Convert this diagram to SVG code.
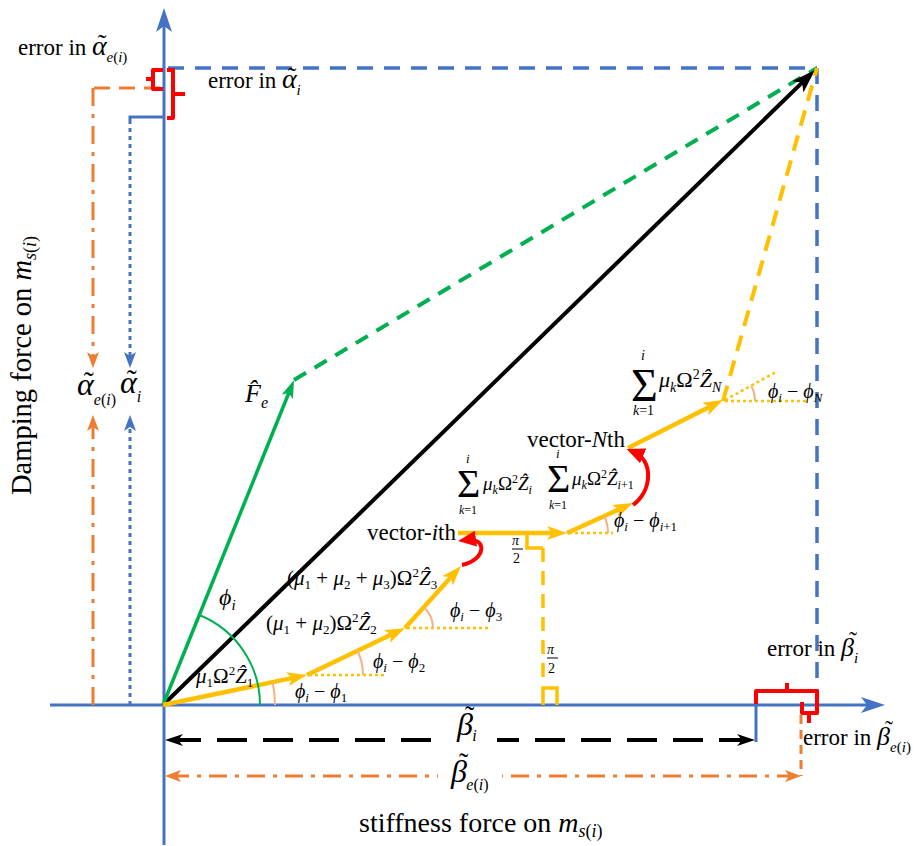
<svg xmlns="http://www.w3.org/2000/svg" width="921" height="846" viewBox="0 0 921 846">
<style>
.m{font-family:"Liberation Serif","DejaVu Serif","Times New Roman",serif;fill:#000}
.i{font-style:italic}
.ax{stroke:#4472C4;stroke-width:3;fill:none}
.bd{stroke:#4472C4;stroke-width:3.5;fill:none;stroke-dasharray:16 11}
.yv{stroke:#FFC000;stroke-width:4.5;fill:none}
.ydot{stroke:#FFC000;stroke-width:2.5;fill:none;stroke-dasharray:3 3}
.arc{stroke:#F4B183;stroke-width:2;fill:none}
.red{stroke:#FF0000;stroke-width:4;fill:none;stroke-linejoin:round}
.or{stroke:#ED7D31;stroke-width:3;fill:none}
</style>
<defs>
<marker id="ahB" markerUnits="userSpaceOnUse" markerWidth="24" markerHeight="16" viewBox="0 0 24 16" refX="16" refY="8" orient="auto"><path d="M0,0 L24,8 L0,16 L6,8 Z" fill="#4472C4"/></marker>
<marker id="ahY" markerUnits="userSpaceOnUse" markerWidth="20" markerHeight="14" viewBox="0 0 20 14" refX="13" refY="7" orient="auto"><path d="M0,0 L20,7 L0,14 L5,7 Z" fill="#FFC000"/></marker>
<marker id="ahG" markerUnits="userSpaceOnUse" markerWidth="18" markerHeight="12" viewBox="0 0 18 12" refX="11" refY="6" orient="auto"><path d="M0,0 L18,6 L0,12 L4,6 Z" fill="#00B050"/></marker>
<marker id="ahK" markerUnits="userSpaceOnUse" markerWidth="24" markerHeight="16" viewBox="0 0 24 16" refX="16" refY="8" orient="auto"><path d="M0,0 L24,8 L0,16 L6,8 Z" fill="#000"/></marker>
<marker id="ahK2" markerUnits="userSpaceOnUse" markerWidth="18" markerHeight="12" viewBox="0 0 18 12" refX="12" refY="6" orient="auto-start-reverse"><path d="M0,0 L18,6 L0,12 L5,6 Z" fill="#000"/></marker>
<marker id="ahO" markerUnits="userSpaceOnUse" markerWidth="16" markerHeight="12" viewBox="0 0 16 12" refX="10" refY="6" orient="auto-start-reverse"><path d="M0,0 L16,6 L0,12 L4,6 Z" fill="#ED7D31"/></marker>
<marker id="ahBs" markerUnits="userSpaceOnUse" markerWidth="16" markerHeight="12" viewBox="0 0 16 12" refX="10" refY="6" orient="auto-start-reverse"><path d="M0,0 L16,6 L0,12 L4,6 Z" fill="#4472C4"/></marker>
<marker id="ahR" markerUnits="userSpaceOnUse" markerWidth="18" markerHeight="16" viewBox="0 0 18 16" refX="10" refY="8" orient="auto"><path d="M0,0 L18,8 L0,16 Z" fill="#FF0000"/></marker>
</defs>

<g id="connectors">
  <line class="ax" x1="50" y1="705" x2="877" y2="705" marker-end="url(#ahB)"/>
  <line class="ax" x1="164" y1="845" x2="164" y2="16" marker-end="url(#ahB)"/>
  <line class="bd" x1="168" y1="68" x2="817" y2="68"/>
  <line class="bd" x1="817" y1="68" x2="817" y2="705"/>
  <line x1="294" y1="380" x2="817" y2="68" stroke="#00B050" stroke-width="4" stroke-dasharray="14 10"/>
  <line x1="163" y1="705" x2="809.3" y2="75.6" stroke="#000" stroke-width="4" marker-end="url(#ahK)"/>
  <line x1="163" y1="705" x2="291.4" y2="386.5" stroke="#00B050" stroke-width="3.5" marker-end="url(#ahG)"/>
  <line x1="723" y1="401" x2="817" y2="68" stroke="#FFC000" stroke-width="4" stroke-dasharray="16 10"/>
  <line class="yv" x1="163" y1="705" x2="300.1" y2="676.4" marker-end="url(#ahY)"/>
  <line class="yv" x1="307" y1="675" x2="398.7" y2="631" marker-end="url(#ahY)"/>
  <line class="yv" x1="405" y1="628" x2="456.3" y2="571.2" marker-end="url(#ahY)"/>
  <line class="yv" x1="458" y1="533" x2="560" y2="533" marker-end="url(#ahY)"/>
  <line class="yv" x1="567" y1="533" x2="626.6" y2="505.9" marker-end="url(#ahY)"/>
  <line class="yv" x1="628" y1="448" x2="716.7" y2="403.2" marker-end="url(#ahY)"/>
  <line class="ydot" x1="309" y1="675" x2="387" y2="675"/>
  <line class="ydot" x1="407" y1="628" x2="488" y2="628"/>
  <line class="ydot" x1="569" y1="533" x2="613" y2="533"/>
  <line class="ydot" x1="725" y1="401" x2="806" y2="401"/>
  <line class="ydot" x1="725" y1="400" x2="776" y2="372"/>
  <path d="M260,705 A97,97 0 0 0 199.3,615" stroke="#00B050" stroke-width="2" fill="none"/>
  <path class="arc" d="M275,705 A112,112 0 0 0 272.6,682.2"/>
  <path class="arc" d="M363,675 A56,56 0 0 0 357.5,650.8"/>
  <path class="arc" d="M433,628 A28,28 0 0 0 423.8,607.2"/>
  <path class="arc" d="M608,533 A41,41 0 0 0 604.3,516"/>
  <path class="arc" d="M755,401 A32,32 0 0 0 751.2,385.8"/>
  <polyline points="527,533 527,548 543,548" stroke="#FFC000" stroke-width="3.5" fill="none"/>
  <line x1="543" y1="548" x2="543" y2="686" stroke="#FFC000" stroke-width="3.5" stroke-dasharray="14 9"/>
  <polyline points="543,705 543,688 557,688 557,705" stroke="#FFC000" stroke-width="3.5" fill="none"/>
  <path class="red" d="M462,565 C486,560 488,537 466,540" stroke-width="5" marker-end="url(#ahR)"/>
  <path class="red" d="M633,505 C653,490 653,460 634,452" stroke-width="5" marker-end="url(#ahR)"/>
  <polyline points="160,88 93,88" class="or" stroke-dasharray="16 9"/>
  <line class="or" x1="93" y1="88" x2="93" y2="362" stroke-dasharray="18 8 4 8" marker-end="url(#ahO)"/>
  <line class="or" x1="93" y1="705" x2="93" y2="421" stroke-dasharray="18 8 4 8" marker-end="url(#ahO)"/>
  <polyline points="163,117 130,117 130,120" stroke="#4472C4" stroke-width="3" fill="none"/>
  <line x1="130" y1="120" x2="130" y2="362" stroke="#4472C4" stroke-width="3" stroke-dasharray="4 4" marker-end="url(#ahBs)"/>
  <line x1="130" y1="705" x2="130" y2="421" stroke="#4472C4" stroke-width="3" stroke-dasharray="4 4" marker-end="url(#ahBs)"/>
  <path class="red" d="M163,70 L153,70 L153,89 L163,89 M153,79 L146,79"/>
  <path class="red" d="M167,70 L173,70 L173,118 L167,118 M173,94 L185,94"/>
  <line class="ax" x1="756" y1="705" x2="756" y2="742"/>
  <path class="red" d="M756,704 L756,691 L817,691 L817,704 M787,691 L787,683"/>
  <path class="red" d="M802,702 L802,713 L817,713 L817,703 M809,713 L809,723"/>
  <line x1="801" y1="715" x2="801" y2="776" stroke="#ED7D31" stroke-width="3" stroke-dasharray="9 6"/>
  <line x1="171" y1="740" x2="440" y2="740" stroke="#000" stroke-width="4" stroke-dasharray="30 16" marker-start="url(#ahK2)"/>
  <line x1="749" y1="740" x2="497" y2="740" stroke="#000" stroke-width="4" stroke-dasharray="30 16" marker-start="url(#ahK2)"/>
  <line x1="171" y1="776" x2="438" y2="776" class="or" stroke-dasharray="18 8 4 8" marker-start="url(#ahO)"/>
  <line x1="795" y1="776" x2="502" y2="776" class="or" stroke-dasharray="18 8 4 8" marker-start="url(#ahO)"/>
</g>

<g id="labels-errors">
  <text class="m" x="18" y="55" font-size="23">error in <tspan class="i" font-size="28">α</tspan><tspan font-size="26" dx="-9" dy="-3">˜</tspan><tspan class="i" font-size="15" dy="10">e</tspan><tspan font-size="15">(</tspan><tspan class="i" font-size="15">i</tspan><tspan font-size="15">)</tspan></text>
  <text class="m" x="208" y="88" font-size="23">error in <tspan class="i" font-size="28">α</tspan><tspan font-size="26" dx="-9" dy="-3">˜</tspan><tspan class="i" font-size="15" dy="10">i</tspan></text>
  <text class="m" x="767" y="656" font-size="23">error in <tspan class="i" font-size="26">β</tspan><tspan font-size="24" dx="-5" dy="-8">˜</tspan><tspan class="i" font-size="15" dx="-3" dy="15">i</tspan></text>
  <text class="m" x="803" y="745" font-size="23">error in <tspan class="i" font-size="26">β</tspan><tspan font-size="24" dx="-5" dy="-8">˜</tspan><tspan class="i" font-size="15" dx="-3" dy="15">e</tspan><tspan font-size="15">(</tspan><tspan class="i" font-size="15">i</tspan><tspan font-size="15">)</tspan></text>
</g>

<g id="labels-projections">
  <text class="m" x="77" y="395" font-size="32"><tspan class="i">α</tspan><tspan font-size="30" dx="-10" dy="-3">˜</tspan><tspan class="i" font-size="16" dy="13">e</tspan><tspan font-size="16">(</tspan><tspan class="i" font-size="16">i</tspan><tspan font-size="16">)</tspan></text>
  <text class="m" x="120" y="393" font-size="32"><tspan class="i">α</tspan><tspan font-size="30" dx="-10" dy="-3">˜</tspan><tspan class="i" font-size="16" dy="12">i</tspan></text>
  <text class="m" x="457" y="735" font-size="32"><tspan class="i">β</tspan><tspan font-size="28" dx="-8" dy="-10">˜</tspan><tspan class="i" font-size="16" dx="-2" dy="16">i</tspan></text>
  <text class="m" x="451" y="782" font-size="32"><tspan class="i">β</tspan><tspan font-size="28" dx="-8" dy="-10">˜</tspan><tspan class="i" font-size="16" dx="-2" dy="18">e</tspan><tspan font-size="16">(</tspan><tspan class="i" font-size="16">i</tspan><tspan font-size="16">)</tspan></text>
</g>

<g id="labels-axes">
  <text class="m" x="359" y="832" font-size="28">stiffness force on <tspan class="i">m</tspan><tspan class="i" font-size="18" dy="5">s</tspan><tspan font-size="18">(</tspan><tspan class="i" font-size="18">i</tspan><tspan font-size="18">)</tspan></text>
  <text class="m" transform="translate(31,495) rotate(-90)" font-size="28.5">Damping force on <tspan class="i">m</tspan><tspan class="i" font-size="18" dy="5">s</tspan><tspan font-size="18">(</tspan><tspan class="i" font-size="18">i</tspan><tspan font-size="18">)</tspan></text>
</g>

<g id="labels-vectors">
  <text class="m i" x="245" y="402" font-size="26">F̂<tspan font-size="16" dy="6">e</tspan></text>
  <text class="m i" x="219" y="605" font-size="24">ϕ<tspan font-size="15" dy="5">i</tspan></text>
  <text class="m" x="196" y="683" font-size="21"><tspan class="i">μ</tspan><tspan font-size="13" dy="4">1</tspan><tspan dy="-4">Ω</tspan><tspan font-size="13" dy="-8">2</tspan><tspan class="i" dy="8">Ẑ</tspan><tspan font-size="13" dy="4">1</tspan></text>
  <text class="m" x="266" y="630" font-size="21">(<tspan class="i">μ</tspan><tspan font-size="13" dy="4">1</tspan><tspan dy="-4"> + </tspan><tspan class="i">μ</tspan><tspan font-size="13" dy="4">2</tspan><tspan dy="-4">)Ω</tspan><tspan font-size="13" dy="-8">2</tspan><tspan class="i" dy="8">Ẑ</tspan><tspan font-size="13" dy="4">2</tspan></text>
  <text class="m" x="287" y="585" font-size="21">(<tspan class="i">μ</tspan><tspan font-size="13" dy="4">1</tspan><tspan dy="-4"> + </tspan><tspan class="i">μ</tspan><tspan font-size="13" dy="4">2</tspan><tspan dy="-4"> + </tspan><tspan class="i">μ</tspan><tspan font-size="13" dy="4">3</tspan><tspan dy="-4">)Ω</tspan><tspan font-size="13" dy="-8">2</tspan><tspan class="i" dy="8">Ẑ</tspan><tspan font-size="13" dy="4">3</tspan></text>
  <text class="m" x="295" y="698" font-size="20"><tspan class="i">ϕ</tspan><tspan class="i" font-size="13" dy="4">i</tspan><tspan dy="-4"> − </tspan><tspan class="i">ϕ</tspan><tspan font-size="13" dy="4">1</tspan></text>
  <text class="m" x="373" y="668" font-size="20"><tspan class="i">ϕ</tspan><tspan class="i" font-size="13" dy="4">i</tspan><tspan dy="-4"> − </tspan><tspan class="i">ϕ</tspan><tspan font-size="13" dy="4">2</tspan></text>
  <text class="m" x="450" y="617" font-size="20"><tspan class="i">ϕ</tspan><tspan class="i" font-size="13" dy="4">i</tspan><tspan dy="-4"> − </tspan><tspan class="i">ϕ</tspan><tspan font-size="13" dy="4">3</tspan></text>
  <text class="m" x="614" y="527" font-size="20"><tspan class="i">ϕ</tspan><tspan class="i" font-size="13" dy="4">i</tspan><tspan dy="-4"> − </tspan><tspan class="i">ϕ</tspan><tspan class="i" font-size="13" dy="4">i</tspan><tspan font-size="13">+1</tspan></text>
  <text class="m" x="768" y="398" font-size="20"><tspan class="i">ϕ</tspan><tspan class="i" font-size="13" dy="4">i</tspan><tspan dy="-4"> − </tspan><tspan class="i">ϕ</tspan><tspan class="i" font-size="13" dy="4">N</tspan></text>
  <text class="m" x="367" y="540" font-size="23">vector-<tspan class="i">i</tspan>th</text>
  <text class="m" x="527" y="447" font-size="23">vector-<tspan class="i">N</tspan>th</text>
</g>

<g id="labels-sums">
  <text class="m" x="457" y="497" font-size="40">Σ</text>
  <text class="m i" x="466" y="463" font-size="13">i</text>
  <text class="m" x="459" y="514" font-size="12"><tspan class="i">k</tspan>=1</text>
  <text class="m" x="483" y="490" font-size="19"><tspan class="i">μ</tspan><tspan class="i" font-size="12" dy="4">k</tspan><tspan dy="-4">Ω</tspan><tspan font-size="12" dy="-7">2</tspan><tspan class="i" dy="7">Ẑ</tspan><tspan class="i" font-size="12" dy="4">i</tspan></text>

  <text class="m" x="547" y="492" font-size="40">Σ</text>
  <text class="m i" x="556" y="458" font-size="13">i</text>
  <text class="m" x="549" y="509" font-size="12"><tspan class="i">k</tspan>=1</text>
  <text class="m" x="572" y="485" font-size="19"><tspan class="i">μ</tspan><tspan class="i" font-size="12" dy="4">k</tspan><tspan dy="-4">Ω</tspan><tspan font-size="12" dy="-7">2</tspan><tspan class="i" dy="7">Ẑ</tspan><tspan class="i" font-size="12" dy="4">i</tspan><tspan font-size="12">+1</tspan></text>

  <text class="m" x="631" y="401" font-size="46">Σ</text>
  <text class="m i" x="641" y="360" font-size="14">i</text>
  <text class="m" x="633" y="415" font-size="14"><tspan class="i">k</tspan>=1</text>
  <text class="m" x="659" y="387" font-size="22"><tspan class="i">μ</tspan><tspan class="i" font-size="14" dy="5">k</tspan><tspan dy="-5">Ω</tspan><tspan font-size="14" dy="-8">2</tspan><tspan class="i" dy="8">Ẑ</tspan><tspan class="i" font-size="14" dy="5">N</tspan></text>

  <text class="m i" x="512" y="545" font-size="14">π</text>
  <line x1="512" y1="549" x2="523" y2="549" stroke="#000" stroke-width="1"/>
  <text class="m" x="513" y="563" font-size="14">2</text>
  <text class="m i" x="547" y="654" font-size="14">π</text>
  <line x1="547" y1="658" x2="558" y2="658" stroke="#000" stroke-width="1"/>
  <text class="m" x="548" y="673" font-size="14">2</text>
</g>
</svg>
